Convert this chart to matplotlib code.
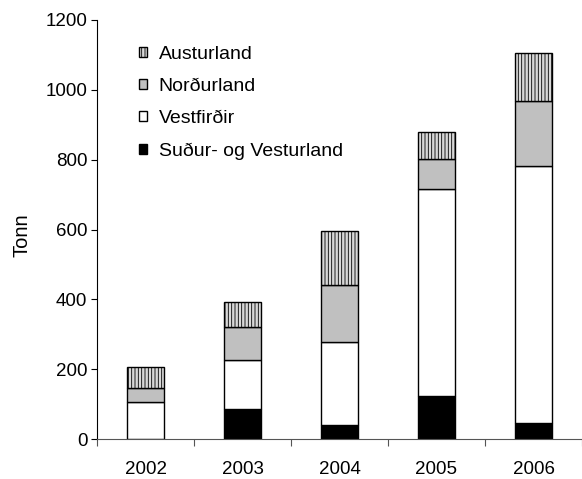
import matplotlib
matplotlib.use("Agg")
import matplotlib.pyplot as plt
import numpy as np

plt.rcParams['font.family'] = ['Liberation Sans', 'DejaVu Sans']
plt.rcParams['hatch.linewidth'] = 0.6

years = ['2002', '2003', '2004', '2005', '2006']
sudur = [0, 87, 40, 124, 47]
vestfirdir = [106, 138, 237, 591, 736]
nordurland = [40, 97, 163, 88, 184]
austurland = [60, 71, 155, 76, 138]

FS = 13.5

fig = plt.figure(figsize=(5.82, 4.79), dpi=100)
ax = fig.add_axes([97/582, 1-439/479, 485/582, 419/479])

x = np.arange(len(years))
w = 0.39
b1 = np.array(sudur)
b2 = b1 + np.array(vestfirdir)
b3 = b2 + np.array(nordurland)
h_s = ax.bar(x, sudur, w, color='black', edgecolor='black', linewidth=1.0, label='Suður- og Vesturland')
h_v = ax.bar(x, vestfirdir, w, bottom=b1, color='white', edgecolor='black', linewidth=1.0, label='Vestfirðir')
h_n = ax.bar(x, nordurland, w, bottom=b2, color='#c0c0c0', edgecolor='black', linewidth=1.0, label='Norðurland')
h_a = ax.bar(x, austurland, w, bottom=b3, color='#d8d8d8', edgecolor='black', linewidth=1.0, hatch='|||||', label='Austurland')

ax.set_xlim(-0.5, 4.5)
ax.set_ylim(0, 1200)
ax.set_yticks(range(0, 1201, 200))
ax.set_xticks(x)
ax.set_xticklabels(years)
ax.set_xticks(np.arange(-0.5, 4.6, 1.0), minor=True)
ax.tick_params(axis='x', which='major', length=0, labelsize=FS, pad=16)
ax.tick_params(axis='x', which='minor', length=5, direction='out', width=0.8, color='#555555')
ax.tick_params(axis='y', length=4, direction='out', labelsize=FS, width=0.8, pad=3)
for s in ['top', 'right']:
    ax.spines[s].set_visible(False)
ax.spines['left'].set_linewidth(0.8)
ax.spines['bottom'].set_linewidth(0.8)
ax.spines['bottom'].set_color('#555555')
ax.set_ylabel('Tonn', fontsize=14.5)
ax.yaxis.set_label_coords(-(97-32)/485, 0.487)

leg = ax.legend(handles=[h_a, h_n, h_v, h_s], loc='upper left', bbox_to_anchor=(0.05, 0.98),
                frameon=False, fontsize=14, handlelength=0.42, handleheight=0.42,
                labelspacing=0.78, handletextpad=0.6)

fig.savefig('out.png', dpi=100)
